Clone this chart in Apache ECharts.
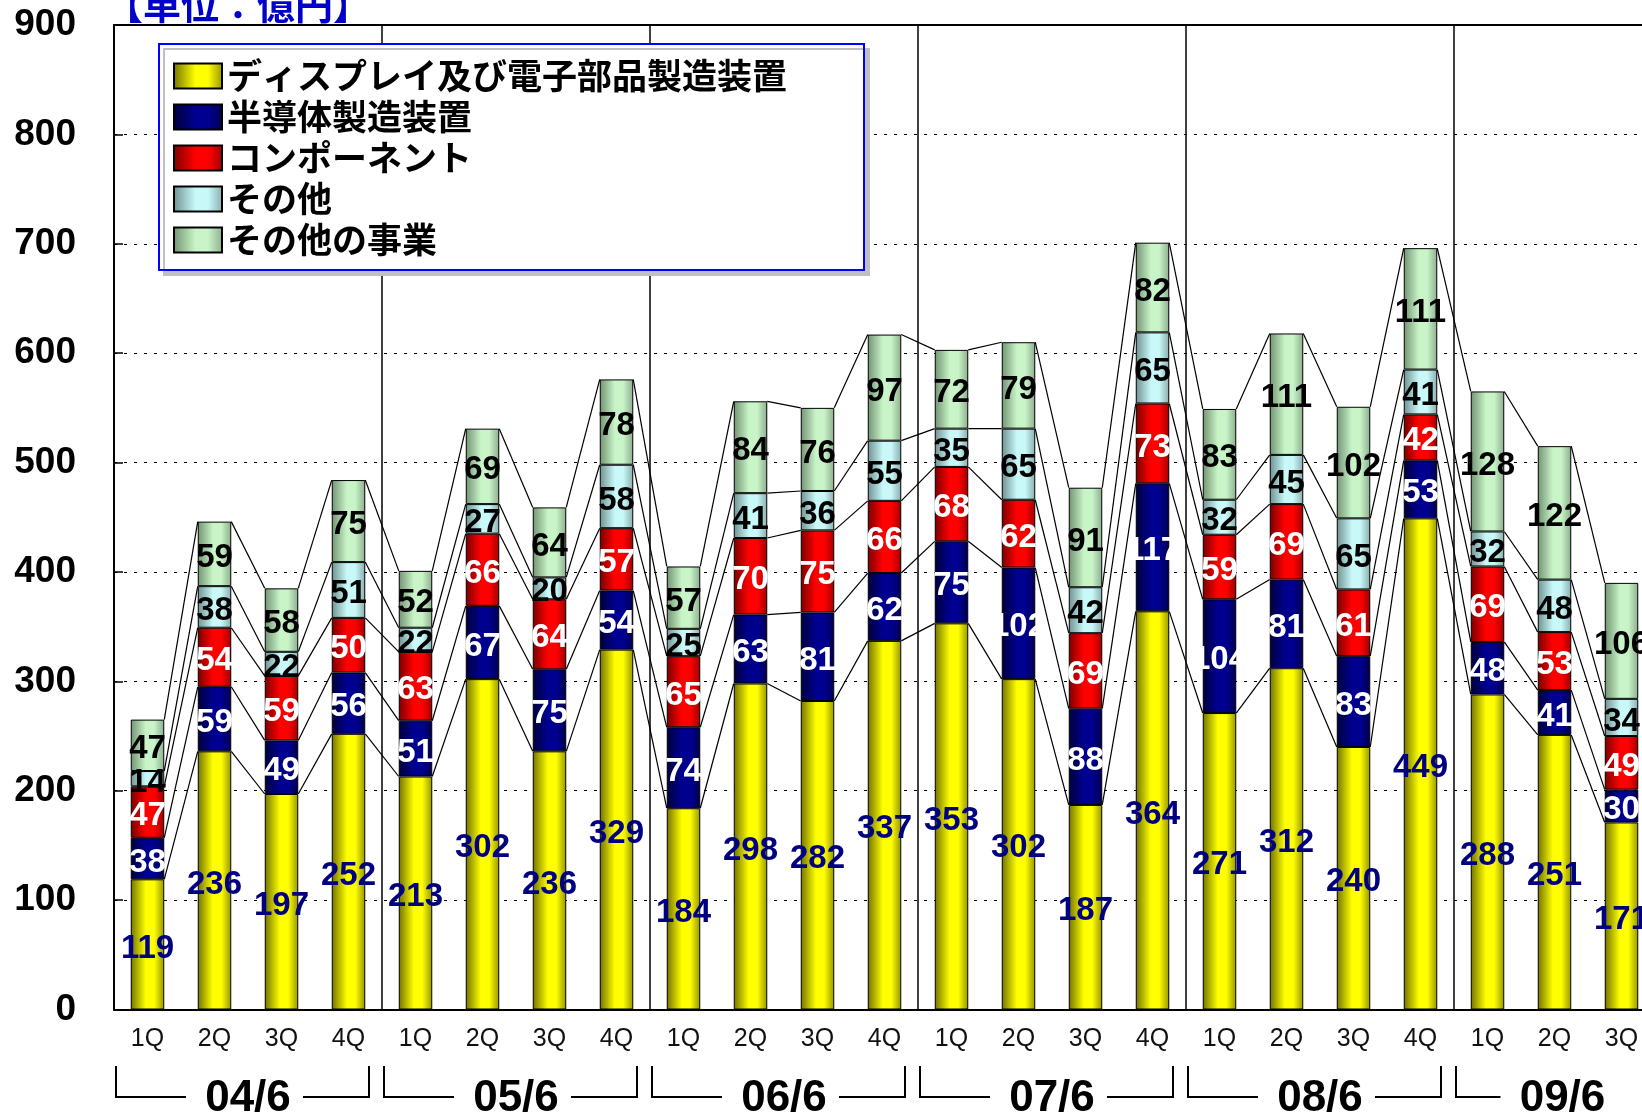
<!DOCTYPE html>
<html>
<head>
<meta charset="utf-8">
<script src="https://cdn.jsdelivr.net/npm/echarts@6/dist/echarts.min.js"></script>
<style>
html,body{margin:0;padding:0;background:#fff;overflow:hidden;width:1642px;height:1112px;}
#chart{width:1700px;height:1112px;}
</style>
</head>
<body>
<div id="chart"></div>
<script>
// ---- data ----
const quarterLabels = ['1Q','2Q','3Q','4Q','1Q','2Q','3Q','4Q','1Q','2Q','3Q','4Q','1Q','2Q','3Q','4Q','1Q','2Q','3Q','4Q','1Q','2Q','3Q'];
const yearLabels = ['04/6','05/6','06/6','07/6','08/6','09/6'];
const yearQuarterCounts = [4,4,4,4,4,3];
const seriesNames = ['ディスプレイ及び電子部品製造装置','半導体製造装置','コンポーネント','その他','その他の事業'];
const display   = [119,236,197,252,213,302,236,329,184,298,282,337,353,302,187,364,271,312,240,449,288,251,171];
const semi      = [38,59,49,56,51,67,75,54,74,63,81,62,75,102,88,117,104,81,83,53,48,41,30];
const component = [47,54,59,50,63,66,64,57,65,70,75,66,68,62,69,73,59,69,61,42,69,53,49];
const other     = [14,38,22,51,22,27,20,58,25,41,36,55,35,65,42,65,32,45,65,41,32,48,34];
const otherBiz  = [47,59,58,75,52,69,64,78,57,84,76,97,72,79,91,82,83,111,102,111,128,122,106];
const yTicks = [0,100,200,300,400,500,600,700,800,900];

// ---- styles ----
const NUM_FONT = '"Liberation Sans", Arial, sans-serif';
const JP_FONT = '"Noto Sans CJK JP", sans-serif';
function grad(dark, light, edge) {
  return {type:'linear', x:0, y:0, x2:1, y2:0, colorStops:[
    {offset:0, color:dark},{offset:0.45, color:light},{offset:0.7, color:light},{offset:1, color:edge}]};
}
const fills = [
  grad('#727200','#ffff00','#959500'),
  grad('#00003a','#000090','#000050'),
  grad('#7a0000','#ff0000','#a00000'),
  grad('#6f9090','#c8f8f8','#8aacac'),
  grad('#729272','#c8f4c8','#8cac8c')
];
const labelColors = ['#000080','#ffffff','#ffffff','#000000','#000000'];
const values = [display, semi, component, other, otherBiz];
const BAR_RATIO = 0.5;

const chart = echarts.init(document.getElementById('chart'), null, {renderer:'canvas'});

const barSeries = values.map((arr, k) => ({
  name: seriesNames[k],
  type: 'bar',
  stack: 'total',
  barWidth: (BAR_RATIO*100)+'%',
  data: arr,
  itemStyle: {color: fills[k], borderColor:'#000', borderWidth:1},
  label: {
    show: true, position: 'inside', offset: [0, 4],
    color: labelColors[k], fontSize: 33, fontWeight: 'bold', fontFamily: NUM_FONT
  },
  emphasis: {disabled: true},
  z: 3
}));

// cumulative tops for connecting lines
const cum = display.map((_, i) => {
  let s = 0; return values.map(a => (s += a[i]));
});
const lineData = [];
for (let i = 0; i < cum.length - 1; i++) {
  lineData.push([i].concat(cum[i], cum[i+1]));
}

const connectSeries = {
  type: 'custom',
  silent: true,
  z: 2,
  clip: false,
  data: lineData,
  encode: {x: 0, y: 1},
  renderItem: function (params, api) {
    const i = api.value(0);
    const band = api.size([1, 0])[0];
    const half = band * BAR_RATIO / 2;
    const children = [];
    for (let k = 0; k < 5; k++) {
      const p1 = api.coord([i, api.value(1 + k)]);
      const p2 = api.coord([i + 1, api.value(6 + k)]);
      children.push({type:'line', shape:{x1:p1[0]+half, y1:p1[1], x2:p2[0]-half, y2:p2[1]},
        style:{stroke:'#000', lineWidth:1.2}});
    }
    return {type:'group', children};
  }
};

// group boundaries for separators
const groupStarts = [];
{ let s = 0; yearQuarterCounts.forEach(c => { groupStarts.push(s); s += c; }); }

chart.setOption({
  animation: false,
  backgroundColor: '#fff',
  title: {
    text: '【単位：億円】', left: 100, top: -19,
    textStyle: {color:'#0000cc', fontSize:38, fontWeight:'bold', fontFamily: JP_FONT}
  },
  legend: {
    data: seriesNames,
    orient: 'vertical',
    left: 159, top: 44,
    itemWidth: 48, itemHeight: 25, itemGap: 3,
    icon: 'rect',
    selectedMode: false,
    padding: [13, 77, 11, 14],
    backgroundColor: '#fff',
    borderColor: '#0000ff', borderWidth: 2, borderRadius: 0,
    shadowColor: '#c0c0c0', shadowOffsetX: 5, shadowOffsetY: 5, shadowBlur: 0,
    itemStyle: {borderColor:'#000', borderWidth:2},
    textStyle: {fontSize: 35, fontWeight: 'bold', color:'#000', fontFamily: JP_FONT, lineHeight: 38},
    z: 10
  },
  grid: {left: 114, top: 25, width: 67*quarterLabels.length, height: 984.5, containLabel: false},
  xAxis: [{
    type: 'category',
    data: quarterLabels,
    boundaryGap: true,
    axisLine: {show: true, lineStyle: {color:'#000', width: 2}},
    axisTick: {show: false},
    axisLabel: {fontSize: 25, color:'#111', fontFamily: NUM_FONT, margin: 17, interval: 0},
    splitLine: {show: true, interval: function (index) { return groupStarts.indexOf(index) > 0; },
      lineStyle: {color:'#000', width: 1.5, type:'solid'}}
  }, {
    type: 'category',
    data: quarterLabels,
    position: 'top',
    axisLine: {show: true, lineStyle: {color:'#000', width: 2}},
    axisTick: {show: false},
    axisLabel: {show: false},
    splitLine: {show: false}
  }],
  yAxis: {
    type: 'value',
    min: yTicks[0], max: yTicks[yTicks.length-1], interval: 100,
    axisLine: {show: true, lineStyle: {color:'#000', width: 2}},
    axisTick: {show: true, inside: true, length: 9, lineStyle: {color:'#000', width: 1.5}},
    axisLabel: {fontSize: 37, fontWeight: 'bold', color:'#000', fontFamily: NUM_FONT, margin: 38,
      padding: [12, 0, 0, 0]},
    splitLine: {show: true, lineStyle: {color:'#000', width: 1, type: [3, 7]}}
  },
  series: barSeries.concat([connectSeries])
});

// year brackets under the axis, positioned through the category scale
function drawBrackets() {
  const band = chart.convertToPixel({xAxisIndex:0}, 1) - chart.convertToPixel({xAxisIndex:0}, 0);
  const yTop = 1066, yBot = 1097;
  const els = [];
  yearLabels.forEach((lab, g) => {
    const first = groupStarts[g];
    const last = first + yearQuarterCounts[g] - 1;
    const start = chart.convertToPixel({xAxisIndex:0}, first) - band/2;
    const end = chart.convertToPixel({xAxisIndex:0}, last) + band/2;
    const complete = yearQuarterCounts[g] === 4;
    const cx = (start + end) / 2 + (complete ? 0 : 8);
    const lx = start + 2;
    els.push({type:'polyline', shape:{points:[[lx, yTop],[lx, yBot],[cx - 62, yBot]]},
      style:{stroke:'#000', lineWidth:2, fill:null}, silent:true});
    if (complete) {
      const rx = end - 13;
      els.push({type:'polyline', shape:{points:[[cx + 55, yBot],[rx, yBot],[rx, yTop]]},
        style:{stroke:'#000', lineWidth:2, fill:null}, silent:true});
    }
    els.push({type:'text', x: cx, y: 1099, silent:true,
      style:{text: lab, fill:'#000', font: 'bold 44px ' + NUM_FONT, align:'center', verticalAlign:'middle'}});
  });
  chart.setOption({graphic: {elements: els}});
}
drawBrackets();
</script>
</body>
</html>
